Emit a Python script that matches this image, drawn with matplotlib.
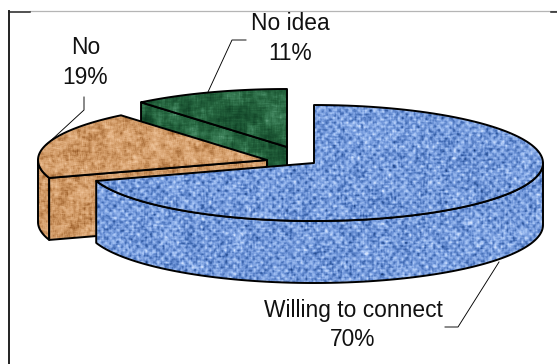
import numpy as np
import matplotlib
matplotlib.use('Agg')
import matplotlib.pyplot as plt
from matplotlib.patches import Polygon

labels = ['Willing to connect', 'No', 'No idea']
shares = [70, 19, 11]

W, H = 557, 364
RX, RY = 229, 58  # ellipse radii of the pie top
DEPTH = 62
OUTLINE = 1.4

plt.rcParams['font.family'] = ['Liberation Sans', 'DejaVu Sans']
rng = np.random.default_rng(7)


def smooth(a, nx, ny=None):
    # simple box blur, wraps around the edges
    ny = ny or nx
    out = sum(np.roll(a, s, axis=1) for s in range(nx)) / nx
    out = sum(np.roll(out, s, axis=0) for s in range(ny)) / ny
    return out


def norm(a):
    return (a - a.mean()) / a.std()


def ramp(v, stops):
    # map a -1..1 value onto a list of colours
    xs = np.linspace(-1, 1, len(stops))
    stops = np.array([matplotlib.colors.to_rgb(c) for c in stops])
    return np.dstack([np.interp(v, xs, stops[:, i]) for i in range(3)])


def weave_texture():
    yy, xx = np.mgrid[0:H, 0:W]
    grid = np.sin(xx * 2 * np.pi / 8) * np.sin(yy * 2 * np.pi / 8)
    dash_h = norm(smooth(rng.normal(size=(H, W)), 7, 2))
    dash_v = norm(smooth(rng.normal(size=(H, W)), 2, 7))
    v = 0.34 * grid + 0.15 * dash_h + 0.15 * dash_v + 0.06
    return ramp(np.clip(v, -1, 1), ['#173a78', '#3f69b2', '#7197da', '#a0bff2', '#d4e3fd'])


def granite_texture():
    fine = norm(smooth(rng.normal(size=(H, W)), 3))
    blotch = norm(smooth(rng.normal(size=(H, W)), 8))
    v = 0.14 * fine + 0.15 * blotch + 0.03
    return ramp(np.clip(v, -1, 1), ['#6b3410', '#a86c37', '#d19a66', '#e8b98c', '#f6d6b2'])


def marble_texture():
    fine = norm(smooth(rng.normal(size=(H, W)), 4))
    blotch = norm(smooth(rng.normal(size=(H, W)), 13))
    v = 0.1 * fine + 0.26 * blotch
    return ramp(np.clip(v, -1, 1), ['#0c3a20', '#164c2d', '#24633d', '#3c8059', '#66a582'])


textures = [weave_texture(), granite_texture(), marble_texture()]
centers = [(314, 163), (267, 160), (287, 147)]

fig = plt.figure(figsize=(W / 100, H / 100), dpi=100)
ax = fig.add_axes([0, 0, 1, 1])


def rim(cx, cy, a0, a1, n=120):
    t = np.radians(np.linspace(a0, a1, n))
    return np.column_stack([cx + RX * np.cos(t), cy - RY * np.sin(t)])


def draw_shape(points, tex, z):
    im = ax.imshow(tex, extent=(0, W, H, 0), origin='upper', zorder=z, interpolation='bilinear')
    poly = Polygon(points, closed=True, fc='none', ec='black', lw=OUTLINE, zorder=z + 0.1, joinstyle='round')
    ax.add_patch(poly)
    im.set_clip_path(poly)


# angles run clockwise from twelve o'clock, drawn back to front
angle_start = 90
spans = []
for s in shares:
    spans.append((angle_start, angle_start - s * 3.6))
    angle_start -= s * 3.6

for z, i in enumerate([2, 1, 0]):
    cx, cy = centers[i]
    a0, a1 = spans[i]
    arc = rim(cx, cy, a0, a1)
    apex = np.array([cx, cy])
    z0 = 2 + z * 2

    # cut face towards the viewer and the curved outer wall
    if i == 0:
        wall = rim(cx, cy, 0, a1)
        draw_shape(np.vstack([wall, wall[::-1] + [0, DEPTH]]), textures[i], z0)
    else:
        corner = arc[0]
        if i == 1:
            wall = rim(cx, cy, a0, -180)
            draw_shape(np.vstack([wall, wall[::-1] + [0, DEPTH]]), textures[i], z0 - 0.5)
        front = np.array([corner, apex, apex + [0, DEPTH], corner + [0, DEPTH]])
        draw_shape(front, textures[i], z0)

    # top surface
    draw_shape(np.vstack([apex, arc]), textures[i], z0 + 0.5)

# leader lines
leaders = [
    ([445, 458, 499], [327, 327, 262]),
    ([84, 84, 46], [97, 110, 145]),
    ([246, 232, 208], [40, 40, 92]),
]
for xs, ys in leaders:
    ax.plot(xs, ys, color='black', lw=0.65, zorder=20)

# data labels, two lines each
label_pos = [(353, 311, 339), (85.5, 47, 78), (290, 24, 54)]
for lab, val, (x, y1, y2) in zip(labels, shares, label_pos):
    ax.text(x, y1, lab, ha='center', va='center', fontsize=16.4, color='#111111', zorder=21)
    ax.text(x, y2, f'{val}%', ha='center', va='center', fontsize=16.4, color='#111111', zorder=21)

# chart frame, only partly dark
ax.plot([30, 557], [10.5, 10.5], color='#b5b5b5', lw=0.9, zorder=1)
ax.plot([9, 9], [11, 364], color='#222222', lw=1.4, zorder=1)
ax.plot([9, 30], [11.5, 11.5], color='#222222', lw=1.1, zorder=1)
ax.plot([551, 557], [11.5, 11.5], color='#222222', lw=1.1, zorder=1)

ax.set_xlim(0, W)
ax.set_ylim(H, 0)
ax.axis('off')

fig.savefig('out.png', dpi=100)
